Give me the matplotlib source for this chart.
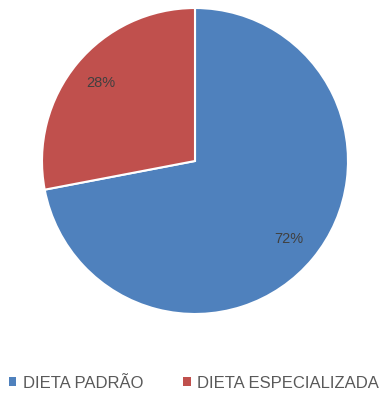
import numpy as np
import matplotlib.pyplot as plt
from matplotlib.patches import Patch

# Diet type share
categories = ["DIETA PADRÃO", "DIETA ESPECIALIZADA"]
shares = [72, 28]
colors = ["#4F81BD", "#C0504D"]

W, H = 388, 396
fig = plt.figure(figsize=(W / 100, H / 100), dpi=100)

# square axes around the pie
d = 306
cx, cy = 195, 161
ax = fig.add_axes([(cx - d / 2) / W, (H - cy - d / 2) / H, d / W, d / H])

wedges, texts = ax.pie(
    shares,
    colors=colors,
    startangle=90,
    counterclock=False,
    radius=1,
    wedgeprops=dict(edgecolor="white", linewidth=1.5),
)
ax.set_xlim(-1, 1)
ax.set_ylim(-1, 1)

# percentage labels inside each slice
for w, v in zip(wedges, shares):
    mid = np.deg2rad((w.theta1 + w.theta2) / 2)
    ax.text(0.8 * np.cos(mid), 0.8 * np.sin(mid), f"{v}%",
            ha="center", va="center", fontsize=10.5, color="#404040",
            family="Liberation Sans")

handles = [Patch(facecolor=c, edgecolor="none") for c in colors]
fig.legend(handles, categories, loc="center", bbox_to_anchor=(0.5, 13 / H),
           ncol=2, frameon=False, handlelength=0.45, handleheight=0.45,
           handletextpad=0.4, columnspacing=2.4,
           prop=dict(family="Liberation Sans", size=12), labelcolor="#595959")

fig.savefig("out.png", dpi=100, facecolor="white")
